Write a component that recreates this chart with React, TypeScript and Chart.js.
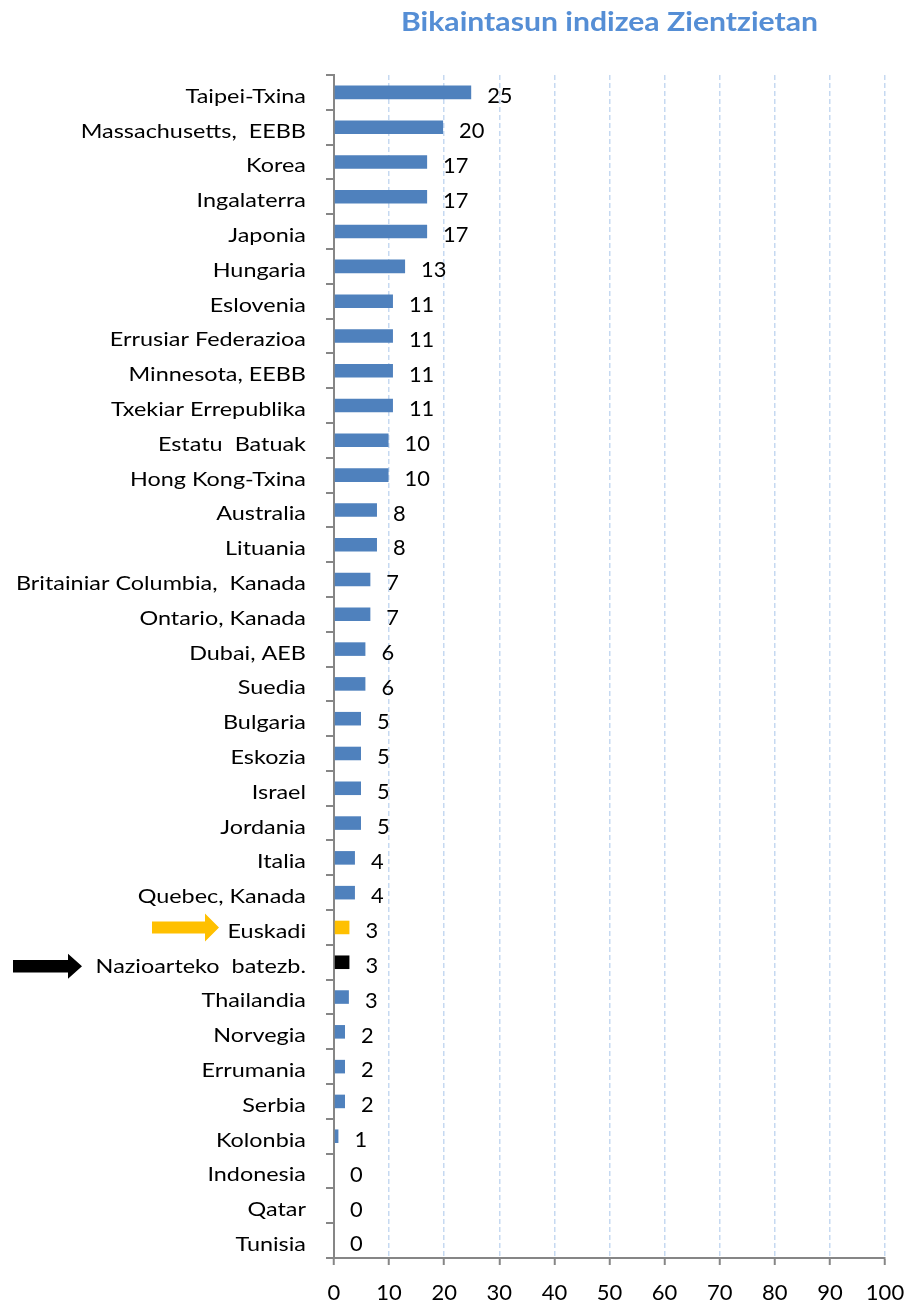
import React, { useEffect, useRef } from "react";
import { Chart, registerables } from "chart.js";

Chart.register(...registerables);

const chartTitle = "Bikaintasun indizea Zientzietan";

const categories = [
  "Taipei-Txina",
  "Massachusetts,  EEBB",
  "Korea",
  "Ingalaterra",
  "Japonia",
  "Hungaria",
  "Eslovenia",
  "Errusiar Federazioa",
  "Minnesota, EEBB",
  "Txekiar Errepublika",
  "Estatu  Batuak",
  "Hong Kong-Txina",
  "Australia",
  "Lituania",
  "Britainiar Columbia,  Kanada",
  "Ontario, Kanada",
  "Dubai, AEB",
  "Suedia",
  "Bulgaria",
  "Eskozia",
  "Israel",
  "Jordania",
  "Italia",
  "Quebec, Kanada",
  "Euskadi",
  "Nazioarteko  batezb.",
  "Thailandia",
  "Norvegia",
  "Errumania",
  "Serbia",
  "Kolonbia",
  "Indonesia",
  "Qatar",
  "Tunisia",
];

const values = [
  24.9, 19.8, 16.9, 16.9, 16.9, 12.9, 10.7, 10.7, 10.7, 10.7, 9.9, 9.9, 7.8,
  7.8, 6.6, 6.6, 5.7, 5.7, 4.9, 4.9, 4.9, 4.9, 3.8, 3.8, 2.8, 2.8, 2.7, 2.0,
  2.0, 2.0, 0.8, 0, 0, 0,
];

const xTicks = [0, 10, 20, 30, 40, 50, 60, 70, 80, 90, 100];

const highlightYellow = "Euskadi";
const highlightBlack = "Nazioarteko  batezb.";

const BLUE = "#4F81BD";
const YELLOW = "#FFC000";
const BLACK = "#000000";
const AXIS_GRAY = "#868686";
const GRID_BLUE = "#C6D9F1";
const FONT = "Lato";
const STRETCH = 1.17;

export default function App() {
  const canvasRef = useRef<HTMLCanvasElement | null>(null);

  useEffect(() => {
    const canvas = canvasRef.current;
    if (!canvas) return;

    const colors = categories.map((c) =>
      c === highlightYellow ? YELLOW : c === highlightBlack ? BLACK : BLUE
    );

    const stretchedText = (
      ctx: CanvasRenderingContext2D,
      text: string,
      x: number,
      y: number,
      sx: number
    ) => {
      ctx.save();
      ctx.translate(x, y);
      ctx.scale(sx, 1);
      ctx.fillText(text, 0, 0);
      ctx.restore();
    };

    const labelPlugin = {
      id: "barLabels",
      afterDatasetsDraw(chart: any) {
        const ctx = chart.ctx;
        const meta = chart.getDatasetMeta(0);
        ctx.save();
        ctx.font = `21px ${FONT}`;
        ctx.fillStyle = "#000";
        ctx.textAlign = "left";
        ctx.textBaseline = "middle";
        meta.data.forEach((el: any, i: number) => {
          const v = values[i];
          stretchedText(ctx, String(Math.round(v)), el.x + 16, el.y + 4, 1.04);
        });
        ctx.restore();
      },
    };

    const yLabelPlugin = {
      id: "yLabels",
      afterDraw(chart: any) {
        const ctx = chart.ctx;
        const y = chart.scales.y;
        ctx.save();
        ctx.font = `20px ${FONT}`;
        ctx.fillStyle = "#000";
        ctx.textAlign = "right";
        ctx.textBaseline = "middle";
        categories.forEach((c, i) => {
          stretchedText(ctx, c, y.right - 28, y.getPixelForValue(i) + 4, STRETCH);
        });
        ctx.restore();
      },
    };

    const titlePlugin = {
      id: "customTitle",
      afterDraw(chart: any) {
        const ctx = chart.ctx;
        const area = chart.chartArea;
        ctx.save();
        ctx.font = `bold 26px ${FONT}`;
        ctx.fillStyle = "#558ED5";
        ctx.textAlign = "center";
        ctx.textBaseline = "middle";
        stretchedText(ctx, chartTitle, (area.left + area.right) / 2, 23, 1.16);
        ctx.restore();
      },
    };

    const drawArrow = (
      ctx: CanvasRenderingContext2D,
      x0: number,
      xNeck: number,
      xTip: number,
      yc: number,
      shaftHalf: number,
      headHalf: number,
      color: string
    ) => {
      ctx.beginPath();
      ctx.moveTo(x0, yc - shaftHalf);
      ctx.lineTo(xNeck, yc - shaftHalf);
      ctx.lineTo(xNeck, yc - headHalf);
      ctx.lineTo(xTip, yc);
      ctx.lineTo(xNeck, yc + headHalf);
      ctx.lineTo(xNeck, yc + shaftHalf);
      ctx.lineTo(x0, yc + shaftHalf);
      ctx.closePath();
      ctx.fillStyle = color;
      ctx.fill();
    };

    const arrowPlugin = {
      id: "arrows",
      afterDraw(chart: any) {
        const ctx = chart.ctx;
        const y = chart.scales.y;
        const yY = y.getPixelForValue(categories.indexOf(highlightYellow));
        const yB = y.getPixelForValue(categories.indexOf(highlightBlack));
        ctx.save();
        drawArrow(ctx, 152, 205, 219, yY, 6, 14, YELLOW);
        drawArrow(ctx, 13, 68, 82, yB + 4, 6.3, 12.5, BLACK);
        ctx.restore();
      },
    };

    const chart = new Chart(canvas, {
      type: "bar",
      data: {
        labels: categories,
        datasets: [
          {
            data: values,
            backgroundColor: colors,
            borderWidth: 0,
            categoryPercentage: 1,
            barPercentage: 0.39,
          },
        ],
      },
      options: {
        indexAxis: "y",
        responsive: false,
        animation: false,
        devicePixelRatio: 1,
        layout: { padding: { top: 75, right: 22, bottom: 0, left: 0 } },
        plugins: {
          legend: { display: false },
          title: { display: false },
          tooltip: { enabled: false },
        },
        scales: {
          x: {
            type: "linear",
            min: 0,
            max: 100,
            afterBuildTicks(scale: any) {
              scale.ticks = xTicks.map((v) => ({ value: v }));
            },
            afterFit(scale: any) {
              scale.height = 55;
              scale.paddingLeft = 0;
              scale.paddingRight = 0;
            },
            ticks: {
              font: { family: FONT, size: 22 },
              color: "#000",
              padding: 15,
              maxRotation: 0,
              autoSkip: false,
            },
            grid: {
              color: GRID_BLUE,
              lineWidth: 1.5,
              drawTicks: true,
              tickLength: 7,
              tickColor: AXIS_GRAY,
              tickWidth: 2,
            },
            border: {
              display: true,
              color: AXIS_GRAY,
              width: 2,
              dash: [5, 3],
            },
          },
          y: {
            type: "category",
            afterFit(scale: any) {
              scale.width = 334;
              scale.paddingTop = 0;
              scale.paddingBottom = 0;
            },
            ticks: {
              display: false,
              autoSkip: false,
            },
            grid: {
              offset: true,
              drawOnChartArea: false,
              drawTicks: true,
              tickLength: 8,
              tickColor: AXIS_GRAY,
              tickWidth: 2,
              lineWidth: 2,
              color: AXIS_GRAY,
            },
            border: {
              display: true,
              color: AXIS_GRAY,
              width: 2,
            },
          },
        },
      },
      plugins: [labelPlugin, yLabelPlugin, titlePlugin, arrowPlugin],
    } as any);

    return () => {
      chart.destroy();
    };
  }, []);

  return (
    <div
      style={{
        position: "absolute",
        left: 0,
        top: 0,
        width: 907,
        height: 1313,
        background: "#fff",
      }}
    >
      <canvas
        ref={canvasRef}
        width={907}
        height={1313}
        style={{ display: "block", width: 907, height: 1313 }}
      />
    </div>
  );
}
